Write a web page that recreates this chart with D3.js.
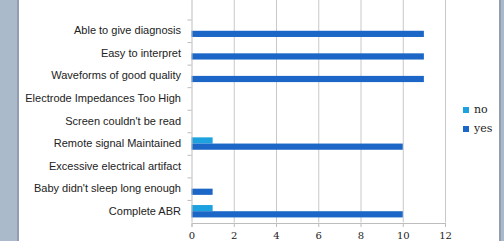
<!DOCTYPE html>
<html>
<head>
<meta charset="utf-8">
<script src="https://cdn.jsdelivr.net/npm/d3@7"></script>
<style>
  body { margin: 0; background: #fff; }
  svg { display: block; }
</style>
</head>
<body>
<svg width="504" height="241"></svg>
<script>
"use strict"

// categories, top to bottom
let categories = [
    "Able to give diagnosis",
    "Easy to interpret",
    "Waveforms of good quality",
    "Electrode Impedances Too High",
    "Screen couldn't be read",
    "Remote signal Maintained",
    "Excessive electrical artifact",
    "Baby didn't sleep long enough",
    "Complete ABR"
]
let noValues = [0, 0, 0, 0, 0, 1, 0, 0, 1]
let yesValues = [11, 11, 11, 0, 0, 10, 0, 1, 10]
let seriesNames = ["no", "yes"]
let xTicks = [0, 2, 4, 6, 8, 10, 12]

let colors = {no: "#1ea2df", yes: "#1b66c6"}

let svg = d3.select("svg")

// slide frame
svg.append("rect").attr("x", 0).attr("y", 0).attr("width", 504).attr("height", 241)
    .attr("fill", "#aabacb")
svg.append("rect").attr("x", 17).attr("y", 0).attr("width", 484).attr("height", 241)
    .attr("fill", "#939db0")
svg.append("rect").attr("x", 19).attr("y", 0).attr("width", 480).attr("height", 241)
    .attr("fill", "#ffffff")

let plotLeft = 191.5, plotRight = 445, plotTop = 19.5, plotBottom = 222.5

let x = d3.scaleLinear().domain([0, 12]).range([plotLeft, plotRight])
let y = d3.scaleBand().domain(categories).range([plotTop, plotBottom])
let sub = d3.scaleBand().domain(seriesNames)
    .range([0, y.bandwidth()]).paddingOuter(0.82)

// vertical gridlines
svg.append("g")
    .selectAll("line")
    .data(xTicks.slice(1))
    .enter().append("line")
    .attr("x1", d => x(d) + 0.5).attr("x2", d => x(d) + 0.5)
    .attr("y1", 0).attr("y2", plotBottom)
    .attr("stroke", "#c8c8c8")
    .attr("stroke-width", 1)

// bars
let rows = categories.map((c, i) => ({cat: c, no: noValues[i], yes: yesValues[i]}))
let groups = svg.append("g").selectAll("g")
    .data(rows)
    .enter().append("g")
    .attr("transform", d => "translate(0," + y(d.cat) + ")")

groups.selectAll("rect")
    .data(d => seriesNames.map(s => ({key: s, value: d[s]})).filter(e => e.value > 0))
    .enter().append("rect")
    .attr("x", x(0))
    .attr("y", d => sub(d.key))
    .attr("width", d => x(d.value) - x(0))
    .attr("height", sub.bandwidth())
    .attr("fill", d => colors[d.key])

// x axis
let xAxis = svg.append("g")
    .attr("transform", "translate(0," + (plotBottom + 0.5) + ")")
    .call(d3.axisBottom(x).tickValues(xTicks).tickSize(4).tickPadding(5))
xAxis.select(".domain").attr("stroke", "#bdbdbd")
xAxis.selectAll(".tick line").attr("stroke", "#bdbdbd")
xAxis.selectAll(".tick text")
    .attr("font-family", "'DejaVu Serif', 'Liberation Serif', serif")
    .attr("font-size", 10)
    .attr("fill", "#222")

// y axis
let yAxis = svg.append("g")
    .attr("transform", "translate(" + (plotLeft + 0.5) + ",0)")
    .call(d3.axisLeft(y).tickSize(0).tickPadding(11))
yAxis.select(".domain").attr("stroke", "#bdbdbd").attr("d", "M0,0V" + plotBottom)
yAxis.selectAll(".tick text")
    .attr("font-family", "'Liberation Sans', Arial, sans-serif")
    .attr("font-size", 11)
    .attr("fill", "#222")

// category boundary ticks
svg.append("g").selectAll("line")
    .data(categories)
    .enter().append("line")
    .attr("x1", plotLeft - 4).attr("x2", plotLeft)
    .attr("y1", d => y(d) + 0.5).attr("y2", d => y(d) + 0.5)
    .attr("stroke", "#bdbdbd")

// legend
let legend = svg.append("g").selectAll("g")
    .data(seriesNames)
    .enter().append("g")
    .attr("transform", (d, i) => "translate(463," + (107 + i * 19) + ")")
legend.append("rect")
    .attr("width", 6).attr("height", 6)
    .attr("fill", d => colors[d])
legend.append("text")
    .attr("x", 11).attr("y", 6)
    .attr("font-family", "'DejaVu Serif', 'Liberation Serif', serif")
    .attr("font-size", 11)
    .attr("fill", "#222")
    .text(d => d)
</script>
</body>
</html>
